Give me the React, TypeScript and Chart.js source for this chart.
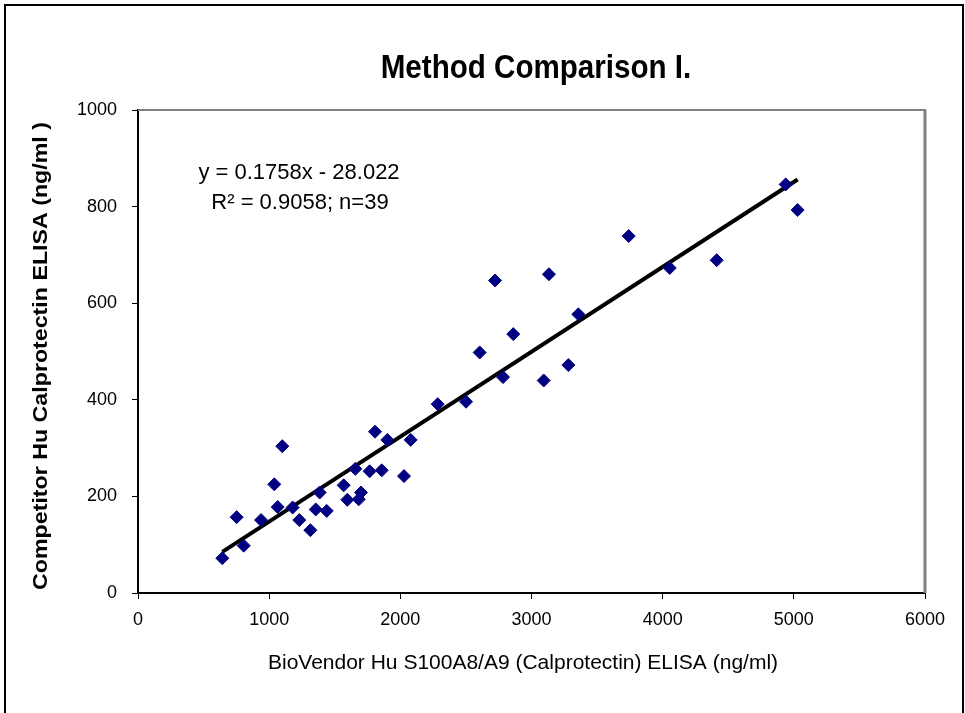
import React, { useEffect, useRef } from "react";
import { Chart, registerables } from "chart.js";

Chart.register(...registerables);

const TITLE = "Method Comparison I.";
const X_TITLE = "BioVendor Hu S100A8/A9 (Calprotectin) ELISA (ng/ml)";
const Y_TITLE = "Competitor Hu Calprotectin ELISA (ng/ml )";
const EQUATION_LINES = ["y = 0.1758x - 28.022", "R² = 0.9058; n=39"];

const biovendor = [
  643, 752, 806, 938, 1039, 1065, 1100, 1179, 1230, 1314, 1355, 1385, 1439,
  1568, 1596, 1657, 1683, 1700, 1766, 1807, 1858, 1901, 2028, 2079, 2285,
  2501, 2605, 2722, 2783, 2861, 3093, 3133, 3281, 3357, 3741, 4054, 4412,
  4938, 5029,
];
const competitor = [
  72, 157, 98, 151, 225, 178, 304, 177, 151, 130, 173, 208, 170, 223, 193,
  257, 194, 208, 252, 334, 254, 317, 242, 317, 391, 396, 498, 647, 447, 536,
  440, 660, 472, 577, 739, 673, 689, 846, 793,
];

const SLOPE = 0.1758;
const INTERCEPT = -28.022;
const trendX = [643, 5029];

const X_MIN = 0;
const X_MAX = 6000;
const X_STEP = 1000;
const Y_MIN = 0;
const Y_MAX = 1000;
const Y_STEP = 200;

const FONT = "'Liberation Sans', Arial, sans-serif";

const textPlugin = {
  id: "extraText",
  afterDraw(chart: any) {
    const ctx = chart.ctx as CanvasRenderingContext2D;
    const a = chart.chartArea;
    ctx.save();
    // plot border (top/right, gray)
    ctx.strokeStyle = "#808080";
    ctx.lineWidth = 2;
    ctx.beginPath();
    ctx.moveTo(a.left, a.top);
    ctx.lineTo(a.right + 1, a.top);
    ctx.stroke();
    ctx.lineWidth = 3;
    ctx.beginPath();
    ctx.moveTo(a.right, a.top);
    ctx.lineTo(a.right, a.bottom);
    ctx.stroke();

    ctx.fillStyle = "#000";
    ctx.textAlign = "center";

    // title
    ctx.textBaseline = "alphabetic";
    ctx.font = `bold 34px ${FONT}`;
    ctx.save();
    ctx.translate(536, 78);
    ctx.scale(0.87, 1);
    ctx.fillText(TITLE, 0, 0);
    ctx.restore();

    // equation
    ctx.font = `22px ${FONT}`;
    ctx.fillText(EQUATION_LINES[0], 299, 179);
    ctx.fillText(EQUATION_LINES[1], 300, 209);

    // x axis title
    ctx.textBaseline = "middle";
    ctx.font = `21px ${FONT}`;
    ctx.fillText(X_TITLE, 523, 663);

    // y axis title
    ctx.font = `bold 20px ${FONT}`;
    ctx.save();
    ctx.translate(41, 356);
    ctx.rotate(-Math.PI / 2);
    ctx.scale(1.16, 1);
    ctx.fillText(Y_TITLE, 0, 0);
    ctx.restore();

    ctx.restore();
  },
};

export default function App() {
  const ref = useRef<HTMLCanvasElement | null>(null);

  useEffect(() => {
    if (!ref.current) return;
    const points = biovendor.map((x, i) => ({ x, y: competitor[i] }));
    const trend = trendX.map((x) => ({ x, y: SLOPE * x + INTERCEPT }));
    const chart = new Chart(ref.current, {
      type: "scatter",
      data: {
        datasets: [
          {
            type: "line",
            data: trend,
            borderColor: "#000",
            borderWidth: 4,
            pointRadius: 0,
            fill: false,
            order: 1,
          },
          {
            data: points,
            pointStyle: "rectRot",
            pointRadius: 6.5,
            pointHoverRadius: 6.5,
            backgroundColor: "#000080",
            borderColor: "#000080",
            borderWidth: 1,
            order: 0,
          },
        ] as any,
      },
      options: {
        responsive: false,
        animation: false,
        devicePixelRatio: 1,
        events: [],
        layout: { padding: { top: 110, right: 40, left: 0, bottom: 0 } },
        plugins: {
          legend: { display: false },
          tooltip: { enabled: false },
          title: { display: false },
        },
        scales: {
          x: {
            type: "linear",
            min: X_MIN,
            max: X_MAX,
            afterFit: (s: any) => {
              s.height = 120;
            },
            afterBuildTicks: (s: any) => {
              const t = [];
              for (let v = X_MIN; v <= X_MAX; v += X_STEP) t.push({ value: v });
              s.ticks = t;
            },
            ticks: {
              color: "#000",
              font: { family: FONT, size: 18 },
              padding: 10,
              maxRotation: 0,
              callback: (v: any) => String(v),
            },
            grid: {
              drawOnChartArea: false,
              drawTicks: true,
              tickLength: 6,
              color: "#000",
              lineWidth: 1,
            },
            border: { color: "#000", width: 2 },
            title: { display: false },
          },
          y: {
            type: "linear",
            min: Y_MIN,
            max: Y_MAX,
            afterFit: (s: any) => {
              s.width = 138;
            },
            afterBuildTicks: (s: any) => {
              const t = [];
              for (let v = Y_MIN; v <= Y_MAX; v += Y_STEP) t.push({ value: v });
              s.ticks = t;
            },
            ticks: {
              color: "#000",
              font: { family: FONT, size: 18 },
              padding: 15,
              callback: (v: any) => String(v),
            },
            grid: {
              drawOnChartArea: false,
              drawTicks: true,
              tickLength: 6,
              color: "#000",
              lineWidth: 1,
            },
            border: { color: "#000", width: 2 },
            title: { display: false },
          },
        },
      } as any,
      plugins: [textPlugin],
    });
    return () => chart.destroy();
  }, []);

  return (
    <div
      style={{
        position: "fixed",
        left: 0,
        top: 0,
        width: 965,
        height: 713,
        background: "#fff",
        overflow: "hidden",
      }}
    >
      <div
        style={{
          position: "absolute",
          left: 4,
          top: 4,
          width: 960,
          height: 800,
          border: "2px solid #000",
          boxSizing: "border-box",
        }}
      />
      <canvas
        ref={ref}
        width={965}
        height={713}
        style={{ position: "absolute", left: 0, top: 0, width: 965, height: 713 }}
      />
    </div>
  );
}
